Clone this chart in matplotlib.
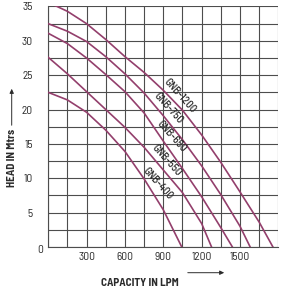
import matplotlib
matplotlib.use("Agg")
import matplotlib.pyplot as plt
from matplotlib.patches import FancyArrowPatch
import numpy as np

FONT = ["Barlow Semi Condensed", "DejaVu Sans"]
CURVE = "#933f6c"
GRID = "#4d4d4d"
INK = "#2b2b2b"

# pump curves: capacity (LPM) -> head (m)
q_1200 = [0, 150, 300, 450, 600, 750, 900, 1050, 1200, 1350, 1500, 1650, 1757]
h_1200 = [35.6, 34.3, 32.5, 30.2, 27.7, 25.4, 22.8, 19.9, 16.3, 12.3, 8.0, 3.6, 0]
q_750 = [0, 150, 300, 450, 600, 750, 900, 1050, 1200, 1350, 1500, 1579]
h_750 = [32.5, 31.4, 29.9, 27.7, 25.2, 22.4, 19.1, 15.6, 11.8, 7.6, 3.0, 0]
q_650 = [0, 150, 300, 450, 600, 750, 900, 1050, 1200, 1350, 1440]
h_650 = [31.1, 29.6, 27.5, 25.1, 22.6, 19.5, 15.4, 11.4, 7.3, 2.8, 0]
q_550 = [0, 150, 300, 450, 600, 750, 900, 1050, 1200, 1277]
h_550 = [27.6, 25.2, 22.6, 20.0, 17.4, 14.5, 11.2, 7.9, 3.4, 0]
q_400 = [0, 150, 300, 450, 600, 750, 900, 1044]
h_400 = [22.5, 21.4, 19.6, 17.0, 13.9, 9.9, 5.4, 0]

models = ["GNB-1200", "GNB-750", "GNB-650", "GNB-550", "GNB-400"]
label_q = [940, 851, 874, 835, 772]   # where each tag sits along its curve

x_ticks = [300, 600, 900, 1200, 1500]
y_ticks = [5, 10, 15, 20, 25, 30, 35]

curves = [(q_1200, h_1200), (q_750, h_750), (q_650, h_650), (q_550, h_550), (q_400, h_400)]

fig = plt.figure(figsize=(2.87, 2.95), dpi=100)
ax = fig.add_axes([0.168, 0.163, 0.802, 0.815])

for (q, h), name, lq in zip(curves, models, label_q):
    ax.plot(q, h, color=CURVE, lw=1.2, zorder=3)
    ax.annotate(name, xy=(lq, np.interp(lq, q, h)), xytext=(8, 0),
                textcoords="offset points", rotation=-48, rotation_mode="anchor",
                ha="center", va="center", fontsize=8, family=FONT,
                fontweight="medium", color=INK, zorder=4)

grid_x = np.arange(0, 1801, 150)
grid_y = np.arange(0, 35.1, 2.5)
ax.set_xlim(0, 1800)
ax.set_ylim(0, 35)
ax.set_xticks(grid_x)
ax.set_xticklabels([str(v) if v in x_ticks else "" for v in grid_x])
ax.set_yticks(grid_y)
ax.set_yticklabels([str(int(v)) if v in y_ticks else "" for v in grid_y])
ax.tick_params(length=0, labelsize=8.2, labelcolor=INK)
ax.tick_params(axis="x", pad=4)
ax.tick_params(axis="y", pad=11)
for lab in ax.get_xticklabels() + ax.get_yticklabels():
    lab.set_family(FONT)
ax.annotate("0", xy=(0, 0), xytext=(-4, -2), textcoords="offset points",
            ha="right", va="center", fontsize=8.2, family=FONT, color=INK)

ax.grid(True, color=GRID, lw=0.8)
ax.set_axisbelow(True)
for side, sp in ax.spines.items():
    sp.set_color(GRID)
    sp.set_linewidth(0.8)
    if side in ("top", "right"):
        sp.set_visible(False)

fig.text(140 / 287, 1 - 283 / 295, "CAPACITY IN LPM", ha="center", va="center",
         fontsize=8, fontweight="bold", family=FONT, color=INK)
fig.text(11.7 / 287, 1 - 158 / 295, "HEAD IN Mtrs", rotation=90, ha="center", va="center",
         fontsize=8, fontweight="bold", family=FONT, color=INK)
fig.add_artist(FancyArrowPatch(
    (185 / 287, 1 - 272.7 / 295), (227 / 287, 1 - 272.7 / 295), transform=fig.transFigure,
    arrowstyle="-|>,head_length=2.5,head_width=1.2", color=INK, lw=0.7))
fig.add_artist(FancyArrowPatch(
    (11.7 / 287, 1 - 128 / 295), (11.7 / 287, 1 - 86 / 295), transform=fig.transFigure,
    arrowstyle="-|>,head_length=2.5,head_width=1.2", color=INK, lw=0.7))

fig.savefig("out.png", dpi=100)
